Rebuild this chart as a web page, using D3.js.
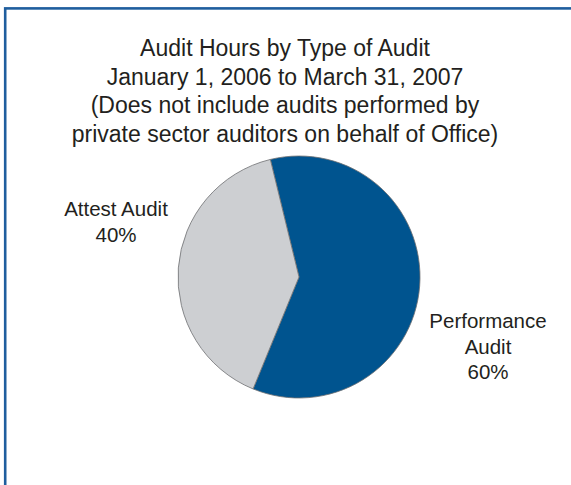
<!DOCTYPE html>
<html>
<head>
<meta charset="utf-8">
<script src="https://cdn.jsdelivr.net/npm/d3@7"></script>
<style>
  html, body { margin: 0; padding: 0; background: #fff; }
  svg { display: block; }
  text { font-family: "Liberation Sans", Arial, Helvetica, sans-serif; fill: #231f20; }
</style>
</head>
<body>
<svg id="chart" width="571" height="485"></svg>
<script>
// Audit hours share by type of audit
const categories = ["Performance Audit", "Attest Audit"];
const shares = [60, 40];
const labelLines = [["Performance", "Audit", "60%"], ["Attest Audit", "40%"]];
const titleLines = [
  "Audit Hours by Type of Audit",
  "January 1, 2006 to March 31, 2007",
  "(Does not include audits performed by",
  "private sector auditors on behalf of Office)"
];
const colors = ["#00548f", "#cdcfd2"];

const svg = d3.select("#chart");

// frame (top and left edges visible; the box runs past the right and bottom)
svg.append("rect")
  .attr("x", 5.2).attr("y", 8.4)
  .attr("width", 600).attr("height", 600)
  .attr("fill", "none")
  .attr("stroke", "#1f5e9e")
  .attr("stroke-width", 2.6);

// title
svg.append("g").selectAll("text")
  .data(titleLines)
  .join("text")
  .attr("x", 285)
  .attr("y", (d, i) => 56 + i * 28.6)
  .attr("text-anchor", "middle")
  .attr("font-size", 23)
  .text(d => d);

// pie
const cx = 299, cy = 277, r = 121;
const offset = -13.7 * Math.PI / 180;
const pie = d3.pie().sort(null).value(d => d)
  .startAngle(offset).endAngle(offset + 2 * Math.PI);
const arc = d3.arc().innerRadius(0).outerRadius(r);

const slices = svg.append("g").attr("transform", `translate(${cx},${cy})`);
slices.selectAll("path")
  .data(pie(shares))
  .join("path")
  .attr("d", arc)
  .attr("fill", (d, i) => colors[i])
  .attr("stroke", "#6d6e71")
  .attr("stroke-width", 0.8);

// slice labels
const labelPos = [
  { x: 488, y: 328 },
  { x: 116, y: 216 }
];
labelLines.forEach((lines, i) => {
  svg.append("text")
    .attr("text-anchor", "middle")
    .attr("font-size", 20.5)
    .selectAll("tspan")
    .data(lines)
    .join("tspan")
    .attr("x", labelPos[i].x)
    .attr("y", (d, j) => labelPos[i].y + j * 25.5)
    .text(d => d);
});
</script>
</body>
</html>
